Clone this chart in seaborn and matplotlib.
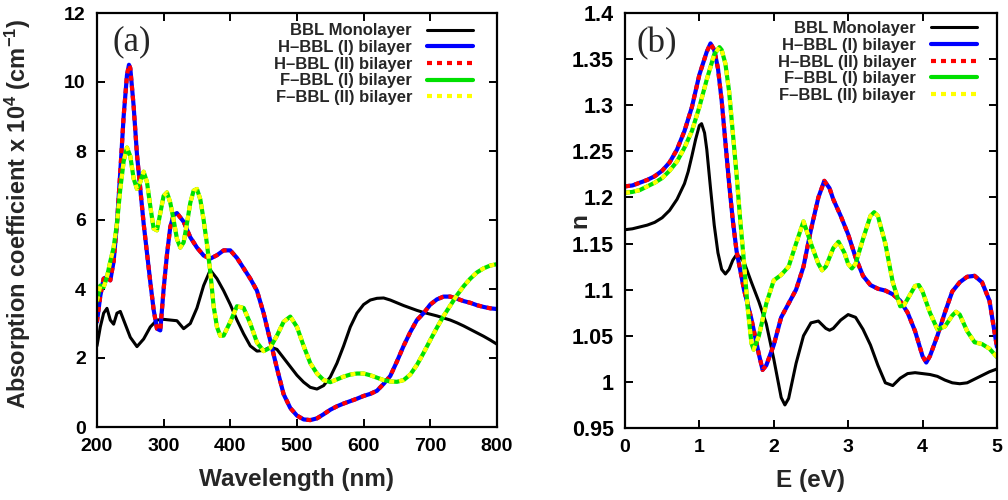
import matplotlib
matplotlib.use("Agg")
import matplotlib.pyplot as plt
import seaborn as sns
from matplotlib.ticker import FormatStrFormatter

# ---- panel (a): absorption coefficient vs wavelength ----
wl_mono = [200, 205, 210, 215, 220, 225, 230, 235, 240, 250, 260, 270, 280, 290, 300, 310, 320, 330, 340, 350,
           360, 370, 380, 390, 400, 410, 420, 430, 440, 450, 460, 470, 480, 490, 500, 510, 520, 530, 540, 550,
           560, 570, 580, 590, 600, 610, 620, 630, 640, 650, 660, 670, 680, 690, 700, 710, 720, 730, 740, 750,
           760, 770, 780, 790, 800]
abs_mono = [2.35, 2.9, 3.3, 3.44, 3.1, 2.98, 3.3, 3.35, 3.1, 2.6, 2.33, 2.55, 2.9, 3.1, 3.12, 3.1, 3.08, 2.85, 3.0, 3.45,
            4.1, 4.55, 4.3, 3.95, 3.55, 3.1, 2.7, 2.35, 2.2, 2.22, 2.32, 2.25, 2.0, 1.75, 1.5, 1.3, 1.15, 1.1, 1.2, 1.45,
            1.85, 2.35, 2.9, 3.3, 3.55, 3.68, 3.73, 3.74, 3.68, 3.6, 3.52, 3.45, 3.38, 3.32, 3.27, 3.22, 3.16, 3.1, 3.02, 2.93,
            2.83, 2.73, 2.63, 2.52, 2.4]

wl_h = [200, 205, 210, 215, 220, 225, 230, 235, 240, 245, 248, 250, 255, 260, 270, 280, 285, 290, 295, 300,
        305, 310, 315, 320, 330, 340, 350, 360, 370, 380, 390, 400, 410, 420, 430, 440, 450, 460, 470, 480,
        490, 500, 510, 520, 530, 540, 550, 560, 570, 580, 590, 600, 610, 620, 630, 640, 650, 660, 670, 680,
        690, 700, 710, 720, 730, 740, 750, 760, 770, 780, 790, 800]
abs_h = [3.05, 3.8, 4.3, 4.35, 4.25, 4.8, 5.9, 7.4, 9.0, 10.2, 10.5, 10.4, 9.3, 7.9, 5.9, 4.2, 3.4, 2.85, 2.8, 4.0,
         5.0, 5.8, 6.15, 6.2, 5.95, 5.5, 5.2, 4.97, 4.88, 4.98, 5.12, 5.12, 4.9, 4.6, 4.3, 3.95, 3.3, 2.5, 1.7, 0.95,
         0.55, 0.33, 0.22, 0.2, 0.25, 0.37, 0.5, 0.6, 0.68, 0.75, 0.82, 0.9, 0.96, 1.05, 1.25, 1.48, 1.9, 2.35, 2.75, 3.1,
         3.3, 3.55, 3.7, 3.78, 3.78, 3.72, 3.65, 3.6, 3.53, 3.48, 3.44, 3.42]

wl_f = [200, 205, 210, 215, 220, 225, 230, 235, 240, 245, 250, 255, 260, 265, 270, 275, 280, 285, 290, 295,
        300, 305, 310, 315, 320, 325, 330, 335, 340, 345, 350, 355, 360, 365, 370, 375, 380, 385, 390, 400,
        410, 420, 430, 440, 450, 460, 470, 480, 490, 500, 510, 520, 530, 540, 550, 560, 570, 580, 590, 600,
        610, 620, 630, 640, 650, 660, 670, 680, 690, 700, 710, 720, 730, 740, 750, 760, 770, 780, 790, 800]
abs_f = [3.65, 4.1, 4.05, 4.35, 4.8, 5.2, 5.9, 6.9, 7.7, 8.1, 7.85, 7.2, 6.9, 7.1, 7.4, 7.1, 6.4, 5.75, 5.7, 6.2,
         6.7, 6.8, 6.5, 6.0, 5.45, 5.2, 5.35, 5.9, 6.5, 6.85, 6.9, 6.6, 6.0, 5.3, 4.5, 3.5, 2.9, 2.64, 2.65, 3.05,
         3.5, 3.45, 3.0, 2.45, 2.2, 2.3, 2.65, 3.05, 3.2, 2.9, 2.35, 1.85, 1.55, 1.36, 1.3, 1.38, 1.46, 1.52, 1.55, 1.55,
         1.5, 1.43, 1.36, 1.32, 1.31, 1.36, 1.52, 1.8, 2.15, 2.52, 2.88, 3.22, 3.52, 3.82, 4.08, 4.3, 4.48, 4.6, 4.68, 4.72]

# ---- panel (b): refractive index vs energy ----
e_mono = [0.0, 0.1, 0.2, 0.3, 0.4, 0.5, 0.6, 0.7, 0.8, 0.85, 0.9, 0.95, 1.0, 1.03, 1.07, 1.1, 1.15, 1.2, 1.25, 1.3,
          1.35, 1.4, 1.45, 1.5, 1.55, 1.6, 1.7, 1.8, 1.9, 2.0, 2.1, 2.15, 2.2, 2.3, 2.4, 2.5, 2.6, 2.7, 2.75, 2.8,
          2.9, 3.0, 3.1, 3.2, 3.3, 3.4, 3.5, 3.6, 3.7, 3.8, 3.9, 4.0, 4.1, 4.2, 4.3, 4.4, 4.5, 4.6, 4.7, 4.8,
          4.9, 5.0]
n_mono = [1.165, 1.166, 1.168, 1.170, 1.173, 1.178, 1.186, 1.198, 1.215, 1.228, 1.245, 1.263, 1.278, 1.28, 1.27, 1.252, 1.21, 1.17, 1.14, 1.122,
          1.117, 1.122, 1.132, 1.138, 1.135, 1.13, 1.108, 1.087, 1.063, 1.025, 0.983, 0.975, 0.982, 1.02, 1.05, 1.064, 1.066, 1.058, 1.056, 1.058,
          1.067, 1.073, 1.07, 1.057, 1.04, 1.018, 0.999, 0.996, 1.004, 1.009, 1.010, 1.009, 1.008, 1.006, 1.002, 0.999, 0.998, 0.999, 1.003, 1.007,
          1.011, 1.014]

e_h = [0.0, 0.1, 0.2, 0.3, 0.4, 0.5, 0.6, 0.7, 0.8, 0.9, 1.0, 1.1, 1.15, 1.2, 1.25, 1.3, 1.35, 1.4, 1.45, 1.5,
       1.6, 1.7, 1.8, 1.85, 1.9, 2.0, 2.1, 2.2, 2.3, 2.4, 2.5, 2.6, 2.68, 2.75, 2.8, 2.9, 3.0, 3.1, 3.2, 3.3,
       3.4, 3.5, 3.6, 3.7, 3.8, 3.9, 4.0, 4.05, 4.1, 4.2, 4.3, 4.4, 4.5, 4.6, 4.7, 4.8, 4.9, 5.0]
n_h = [1.212, 1.213, 1.216, 1.219, 1.223, 1.229, 1.238, 1.252, 1.272, 1.298, 1.333, 1.358, 1.367, 1.36, 1.34, 1.305, 1.26, 1.215, 1.175, 1.142,
       1.1, 1.068, 1.03, 1.013, 1.018, 1.04, 1.07, 1.085, 1.1, 1.125, 1.165, 1.2, 1.218, 1.21, 1.198, 1.18, 1.16, 1.135, 1.115, 1.105,
       1.101, 1.099, 1.095, 1.088, 1.075, 1.055, 1.028, 1.021, 1.028, 1.05, 1.075, 1.098, 1.108, 1.114, 1.115, 1.108, 1.088, 1.038]

e_f = [0.0, 0.1, 0.2, 0.3, 0.4, 0.5, 0.6, 0.7, 0.8, 0.9, 1.0, 1.1, 1.2, 1.27, 1.3, 1.35, 1.4, 1.45, 1.5, 1.55,
       1.6, 1.65, 1.7, 1.73, 1.8, 1.9, 2.0, 2.1, 2.2, 2.3, 2.4, 2.5, 2.6, 2.65, 2.7, 2.8, 2.87, 2.95, 3.0, 3.05,
       3.1, 3.2, 3.3, 3.35, 3.4, 3.5, 3.6, 3.7, 3.75, 3.8, 3.9, 3.95, 4.0, 4.1, 4.2, 4.3, 4.4, 4.45, 4.5, 4.6,
       4.7, 4.8, 4.9, 5.0]
n_f = [1.205, 1.206, 1.208, 1.212, 1.216, 1.221, 1.229, 1.239, 1.254, 1.272, 1.298, 1.328, 1.355, 1.363, 1.36, 1.345, 1.315, 1.27, 1.225, 1.175,
       1.13, 1.08, 1.042, 1.035, 1.05, 1.085, 1.11, 1.116, 1.125, 1.15, 1.174, 1.15, 1.128, 1.121, 1.125, 1.145, 1.152, 1.14, 1.128, 1.123,
       1.128, 1.155, 1.18, 1.184, 1.18, 1.15, 1.108, 1.082, 1.083, 1.09, 1.104, 1.105, 1.098, 1.075, 1.057, 1.06, 1.072, 1.076, 1.073, 1.055,
       1.043, 1.041, 1.036, 1.027]

labels = ["BBL Monolayer", "H\u2013BBL (I) bilayer", "H\u2013BBL (II) bilayer",
          "F\u2013BBL (I) bilayer", "F\u2013BBL (II) bilayer"]

sns.set_theme(style="ticks")
plt.rcParams['font.family'] = ['Liberation Sans', 'DejaVu Sans']
plt.rcParams['font.weight'] = 'bold'
plt.rcParams['axes.labelweight'] = 'bold'
plt.rcParams['mathtext.fontset'] = 'custom'
plt.rcParams['mathtext.rm'] = 'Liberation Sans:bold'
plt.rcParams['mathtext.it'] = 'Liberation Sans:bold'
plt.rcParams['mathtext.bf'] = 'Liberation Sans:bold'

dots = (0, (1.2, 1.2))


def draw_panel(ax, xs, ys):
    (xm, ym), (xh, yh), (xf, yf) = list(zip(xs, ys))
    sns.lineplot(x=xm, y=ym, ax=ax, color="black", lw=2.2, label=labels[0])
    sns.lineplot(x=xh, y=yh, ax=ax, color="#0000ff", lw=3.0, label=labels[1])
    sns.lineplot(x=xh, y=yh, ax=ax, color="#ff0000", lw=3.0, linestyle=dots, label=labels[2])
    sns.lineplot(x=xf, y=yf, ax=ax, color="#00e000", lw=3.0, label=labels[3])
    sns.lineplot(x=xf, y=yf, ax=ax, color="#ffff00", lw=3.0, linestyle=dots, label=labels[4])

    for s in ax.spines.values():
        s.set_linewidth(1.6)
        s.set_color("black")
    ax.tick_params(direction="in", top=True, right=True, length=6, width=1.4,
                   labelsize=14, pad=8, colors="black")


fig = plt.figure(figsize=(10.08, 5.0), dpi=100)
ax1 = fig.add_axes([0.0962, 0.146, 0.3968, 0.828])
ax2 = fig.add_axes([0.620, 0.144, 0.369, 0.830])

draw_panel(ax1, [wl_mono, wl_h, wl_f], [abs_mono, abs_h, abs_f])
ax1.set_xlim(200, 800)
ax1.set_ylim(0, 12)
ax1.set_xticks(range(200, 801, 100))
ax1.set_yticks(range(0, 13, 2))
ax1.set_xlabel("Wavelength (nm)", fontsize=17.5, fontweight="bold")
ax1.set_ylabel(r"Absorption coefficient x 10$^{4}$ (cm$^{-1}$)", fontsize=17, fontweight="bold")
ax1.xaxis.set_label_coords(0.5, -0.1)
ax1.yaxis.set_label_coords(-0.16, 0.515)
ax1.text(0.088, 0.93, "(a)", transform=ax1.transAxes, fontsize=25,
         family=["Liberation Serif", "DejaVu Serif"], fontweight="normal", ha="center", va="center")

draw_panel(ax2, [e_mono, e_h, e_f], [n_mono, n_h, n_f])
ax2.set_xlim(0, 5)
ax2.set_ylim(0.95, 1.4)
ax2.set_xticks(range(0, 6))
ax2.set_yticks([0.95, 1.0, 1.05, 1.1, 1.15, 1.2, 1.25, 1.3, 1.35, 1.4])
ax2.yaxis.set_major_formatter(FormatStrFormatter("%g"))
ax2.tick_params(axis="y", labelsize=15.5)
ax2.set_xlabel("E (eV)", fontsize=17.5, fontweight="bold")
ax2.set_ylabel("n", fontsize=17.5, fontweight="bold")
ax2.xaxis.set_label_coords(0.5, -0.1)
ax2.yaxis.set_label_coords(-0.09, 0.5)
ax2.text(0.085, 0.925, "(b)", transform=ax2.transAxes, fontsize=25,
         family=["Liberation Serif", "DejaVu Serif"], fontweight="normal", ha="center", va="center")

for ax in (ax1, ax2):
    for t in ax.get_xticklabels() + ax.get_yticklabels():
        t.set_fontweight("bold")

for ax, anchor in [(ax1, (0.94, 0.975)), (ax2, (0.946, 0.98))]:
    leg = ax.legend(loc="upper right", bbox_to_anchor=anchor, frameon=False, markerfirst=False,
                    fontsize=12, handlelength=2.75, handletextpad=0.9, labelspacing=0.1,
                    borderpad=0, borderaxespad=0)
    for t in leg.get_texts():
        t.set_fontweight("bold")

fig.savefig("out.png", dpi=100)
